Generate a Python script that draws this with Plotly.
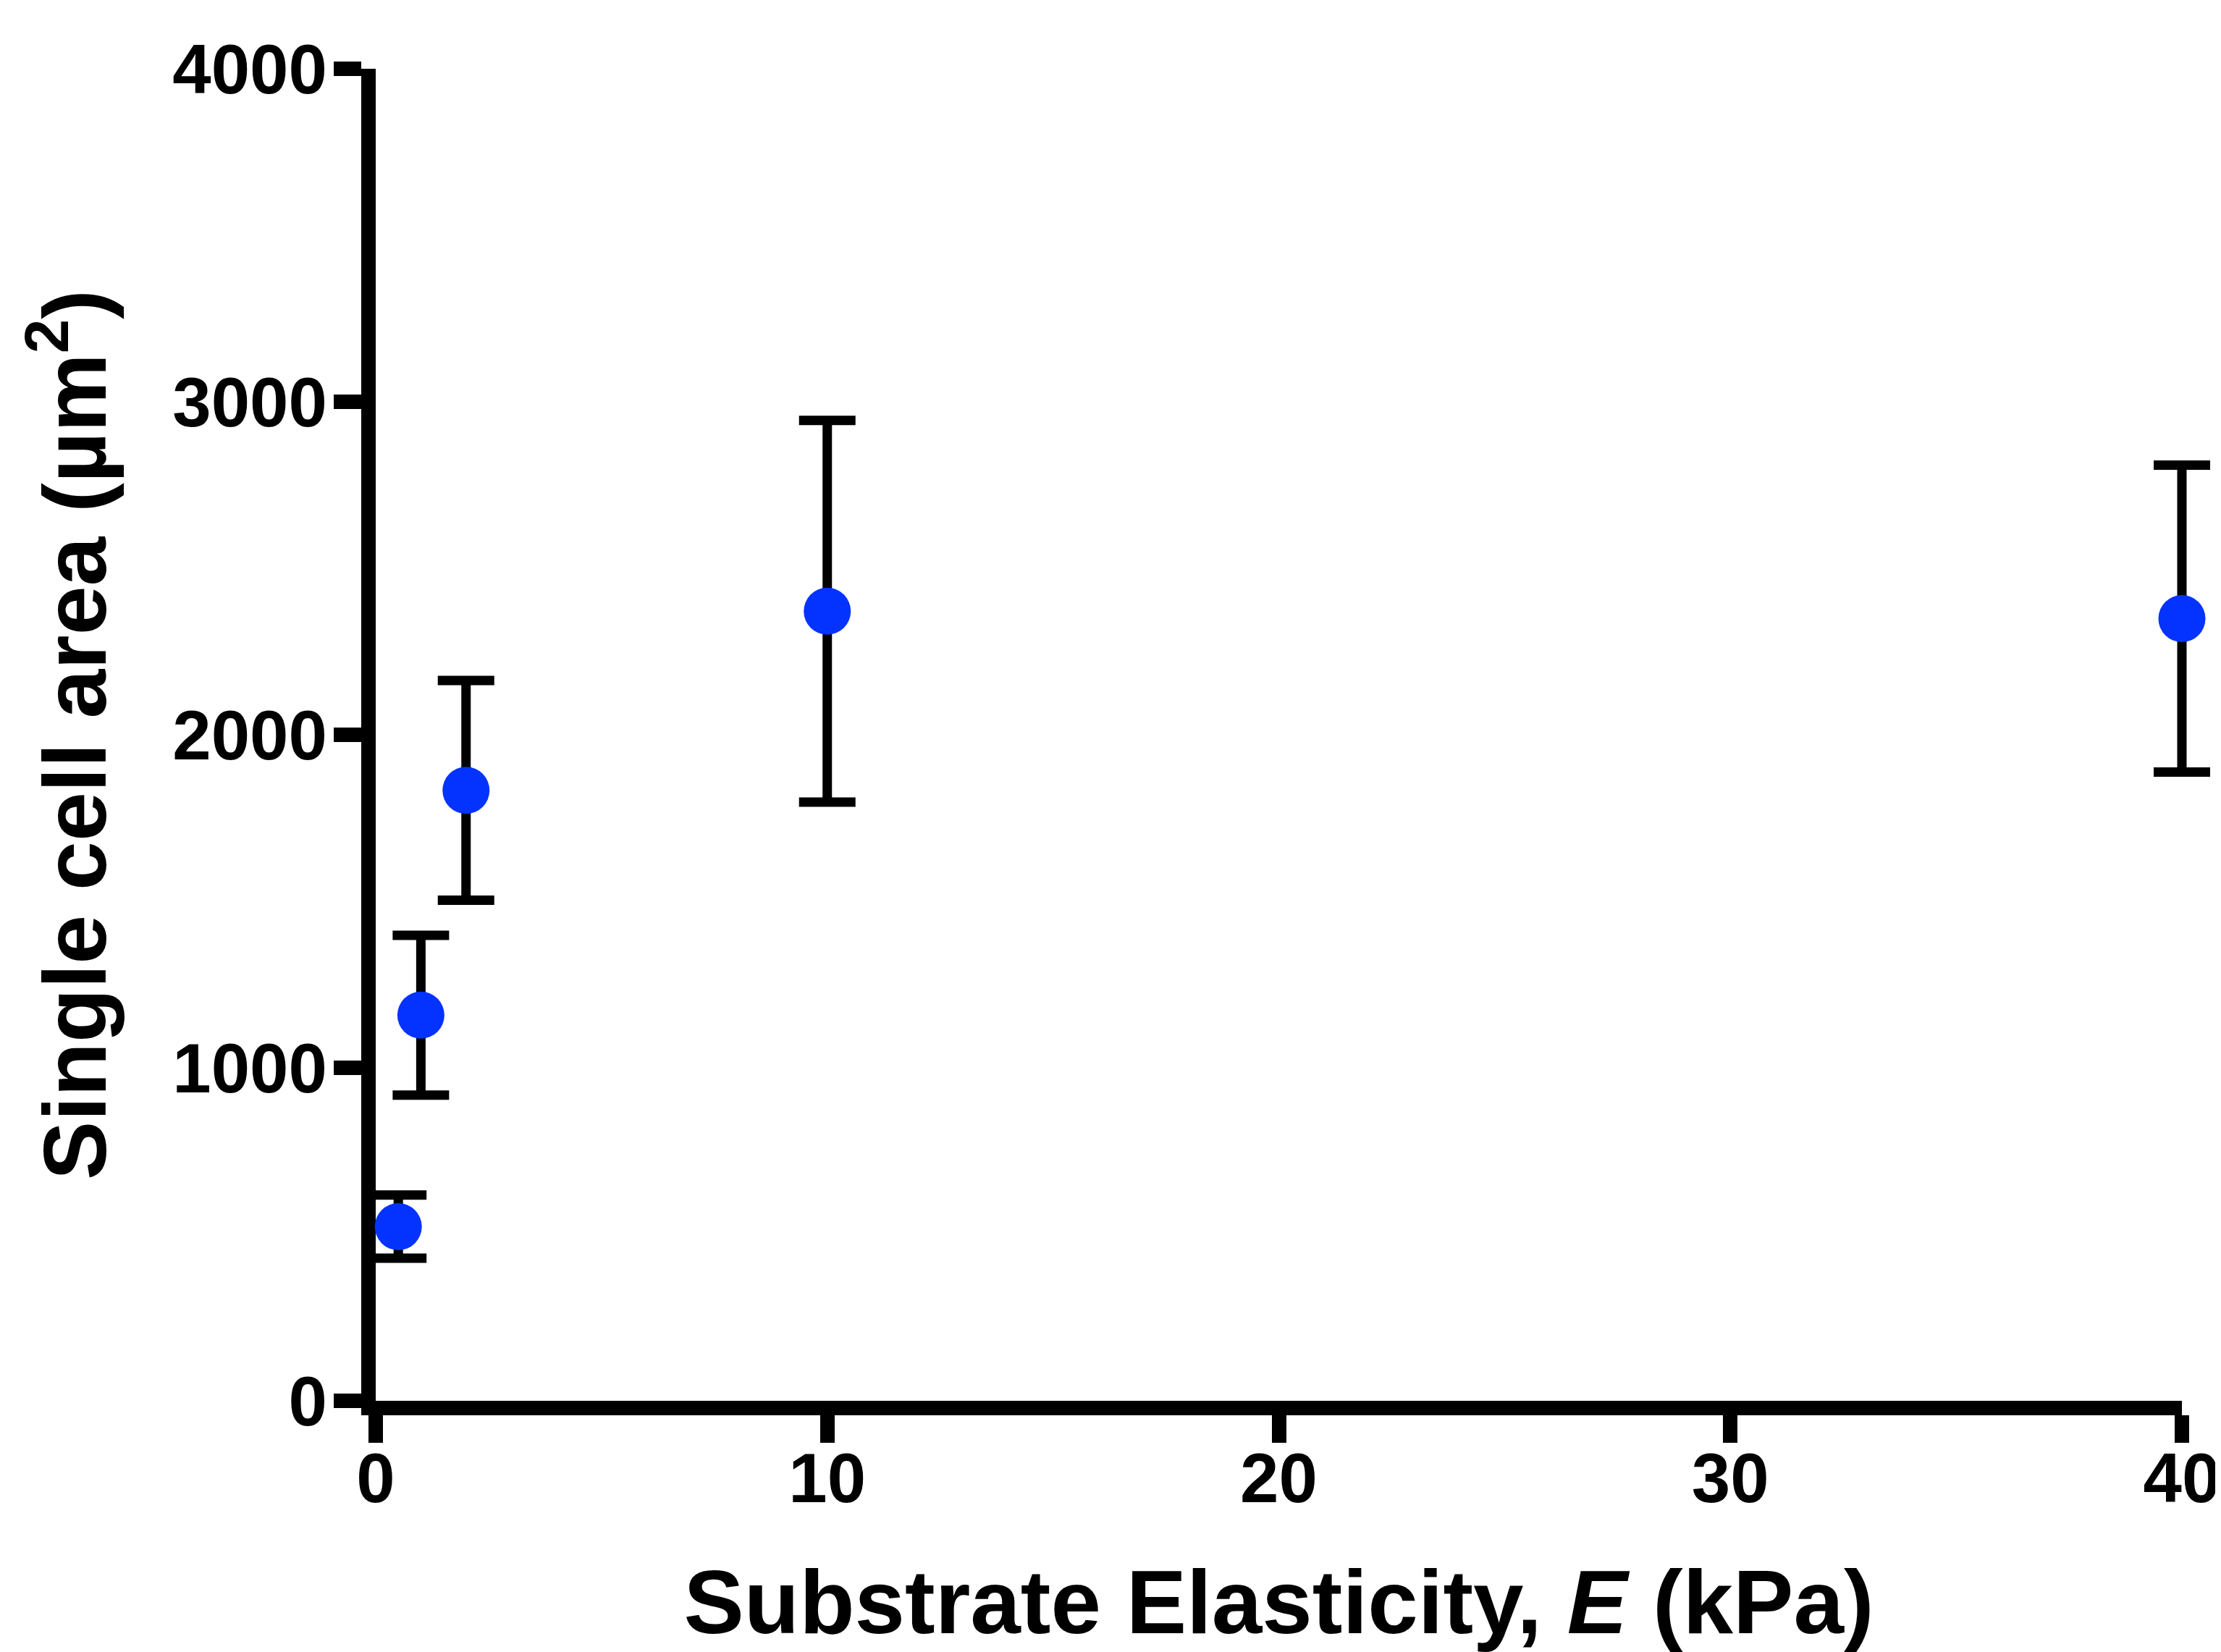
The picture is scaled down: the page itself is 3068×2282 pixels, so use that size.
import plotly.graph_objects as go

# substrate stiffness (kPa) vs. single cell spread area
elasticity = [0.5, 1, 2, 10, 40]
cell_area = [523, 1158, 1833, 2371, 2349]
area_err = [95, 240, 330, 573, 461]

x_ticks = [0, 10, 20, 30, 40]
y_ticks = [0, 1000, 2000, 3000, 4000]

FONT = "Liberation Sans"
W, H = 3068, 2282
L, R, T, B = 511, 18, 87, 355
X_END = 3006  # pixel where x = 40 sits; the hidden axis runs a bit past it
dom = (X_END - L) / (W - L - R)

fig = go.Figure()
# transparent copy on the visible x axis so that axis gets drawn
fig.add_trace(go.Scatter(
    x=elasticity, y=cell_area, mode="markers", xaxis="x", yaxis="y",
    marker=dict(opacity=0), hoverinfo="skip", showlegend=False))
# visible points, on a wider hidden axis so the cap at 40 is not clipped
fig.add_trace(go.Scatter(
    x=elasticity, y=cell_area, mode="markers",
    xaxis="x2", yaxis="y",
    marker=dict(color="#0433ff", size=65, line=dict(width=0)),
    error_y=dict(type="data", array=area_err, visible=True,
                 color="black", thickness=13, width=39),
    cliponaxis=False, showlegend=False))

axis_common = dict(
    showline=True, linecolor="black", linewidth=20,
    ticks="outside", ticklen=38, tickwidth=20, tickcolor="black",
    showgrid=False, zeroline=False, automargin=False,
    tickfont=dict(family=FONT, size=96, color="black", weight=700),
)

fig.update_layout(
    xaxis=dict(
        domain=[0, dom], range=[0, 40], tickvals=x_ticks,
        ticklabelstandoff=-33, **axis_common,
        title=dict(text="Substrate Elasticity, <i>E</i> (kPa)", standoff=83,
                   font=dict(family=FONT, size=125, color="black", weight=700))),
    xaxis2=dict(domain=[0, 1], range=[0, 40 / dom], anchor="y",
                visible=False, automargin=False),
    yaxis=dict(
        range=[0, 4000], tickvals=y_ticks, ticklabelstandoff=-10,
        **axis_common,
        title=dict(text="Single cell area (µm<sup>2</sup>)", standoff=60,
                   font=dict(family=FONT, size=122, color="black", weight=700))),
    width=W, height=H,
    margin=dict(l=L, r=R, t=T, b=B),
    paper_bgcolor="white", plot_bgcolor="rgba(0,0,0,0)",
)

fig.write_html("out.html")
